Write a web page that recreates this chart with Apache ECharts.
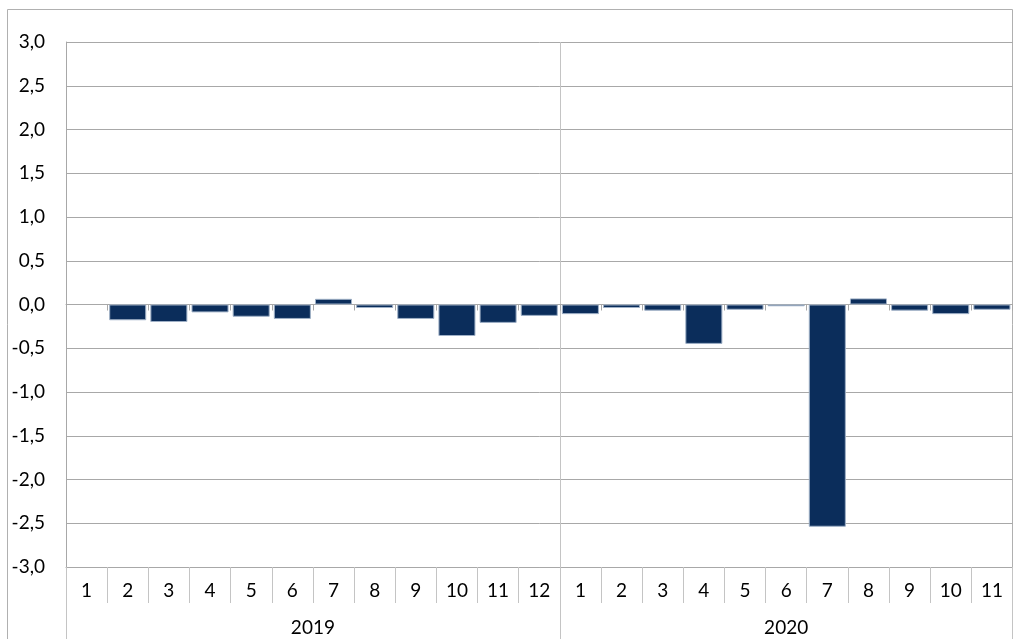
<!DOCTYPE html>
<html><head><meta charset="utf-8">
<script src="https://cdn.jsdelivr.net/npm/echarts@6/dist/echarts.min.js"></script>
<style>html,body{margin:0;padding:0;background:#fff}#c{width:1014px;height:639px}</style>
</head><body><div id="c"></div>
<script>
const years = ['2019', '2020'];
const monthsPerYear = [12, 11];
const months = ['1','2','3','4','5','6','7','8','9','10','11','12','1','2','3','4','5','6','7','8','9','10','11'];
const values = [null, -0.18, -0.20, -0.09, -0.14, -0.165, 0.065, -0.04, -0.165, -0.36, -0.21, -0.13,
                -0.11, -0.04, -0.07, -0.45, -0.06, -0.02, -2.54, 0.07, -0.07, -0.11, -0.06];
const yMin = -3, yMax = 3, yStep = 0.5;

// year boundaries and label centres (in category units)
const bounds = [0];
monthsPerYear.forEach(n => bounds.push(bounds[bounds.length - 1] + n));
const centers = years.map((y, i) => (bounds[i] + bounds[i + 1]) / 2);
const inner = bounds.slice(1, -1);

const FONT = 'Lato';
const GRID = '#a8a8a8';
const LIGHT = '#c4c4c4';

const chart = echarts.init(document.getElementById('c'), null, { renderer: 'canvas' });
chart.setOption({
  animation: false,
  backgroundColor: '#fff',
  textStyle: { fontFamily: FONT },
  graphic: [{
    type: 'rect', silent: true, z: -10,
    shape: { x: 7.5, y: 9.5, width: 1005, height: 700 },
    style: { fill: 'none', stroke: '#b0b0b0', lineWidth: 1 }
  }],
  grid: { left: 66, right: 1.5, top: 42, bottom: 72, containLabel: false },
  xAxis: [
    { // bars axis, line on zero
      type: 'category', data: months, gridIndex: 0,
      axisLine: { show: true, onZero: true, lineStyle: { color: GRID, width: 1 } },
      axisTick: { show: true, interval: 0, length: 6, lineStyle: { color: GRID } },
      axisLabel: { show: false }, splitLine: { show: false }
    },
    { // month labels row
      type: 'category', data: months, gridIndex: 0, position: 'bottom',
      axisLine: { show: true, onZero: false, lineStyle: { color: GRID } },
      axisTick: { show: true, interval: 0, length: 36, lineStyle: { color: LIGHT } },
      axisLabel: { show: true, interval: 0, margin: 14, fontSize: 19, color: '#000', fontFamily: FONT },
      splitLine: { show: false }
    },
    { // year labels row
      type: 'value', min: 0, max: bounds[bounds.length - 1], gridIndex: 0, position: 'bottom',
      axisLine: { show: false, onZero: false },
      axisTick: { show: true, customValues: bounds, length: 72, lineStyle: { color: LIGHT } },
      axisLabel: { show: true, customValues: centers, margin: 51, fontSize: 19, color: '#000', fontFamily: FONT,
        formatter: v => { const i = centers.findIndex(c => Math.abs(c - v) < 1e-6); return i >= 0 ? years[i] : ''; } },
      splitLine: { show: false }
    },
    { // year divider through plot
      type: 'value', min: 0, max: bounds[bounds.length - 1], gridIndex: 0, position: 'bottom',
      axisLine: { show: false, onZero: false },
      axisTick: { show: false, customValues: inner },
      axisLabel: { show: false },
      splitLine: { show: true, lineStyle: { color: LIGHT, width: 1 } }
    }
  ],
  yAxis: {
    type: 'value', min: yMin, max: yMax, interval: yStep,
    axisLine: { show: true, lineStyle: { color: GRID } },
    axisTick: { show: false },
    axisLabel: { margin: 21, fontSize: 19, color: '#000', fontFamily: FONT,
      formatter: v => v.toFixed(1).replace('.', ',') },
    splitLine: { show: true, lineStyle: { color: GRID, width: 1 } }
  },
  series: [{
    type: 'bar', xAxisIndex: 0, data: values,
    barCategoryGap: '10%',
    itemStyle: { color: '#0b2d5b', borderColor: '#9fb0c6', borderWidth: 1 },
    z: 3
  }]
});
</script></body></html>
